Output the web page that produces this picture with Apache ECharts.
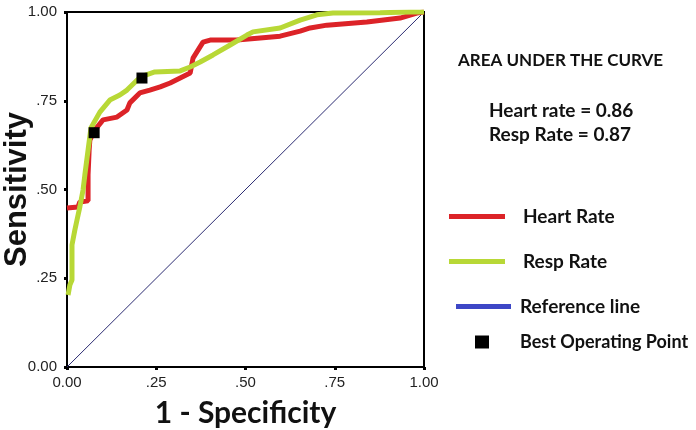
<!DOCTYPE html>
<html>
<head>
<meta charset="utf-8">
<script src="https://cdn.jsdelivr.net/npm/echarts@6/dist/echarts.min.js"></script>
<style>
  html, body { margin: 0; padding: 0; background: #fff; }
  #chart { width: 696px; height: 430px; }
</style>
</head>
<body>
<div id="chart"></div>
<script>
// ---- data (1 - specificity, sensitivity) ----
const heartRate = [
  [0, 0.448], [0.031, 0.451], [0.036, 0.465], [0.059, 0.468], [0.059, 0.541],
  [0.062, 0.611], [0.064, 0.639], [0.076, 0.665], [0.101, 0.696], [0.140, 0.704],
  [0.168, 0.724], [0.176, 0.744], [0.204, 0.772], [0.232, 0.780], [0.261, 0.789],
  [0.289, 0.800], [0.317, 0.814], [0.345, 0.828], [0.353, 0.870], [0.381, 0.915],
  [0.401, 0.921], [0.476, 0.921], [0.541, 0.927], [0.597, 0.932], [0.653, 0.946],
  [0.681, 0.955], [0.728, 0.963], [0.840, 0.972], [0.933, 0.983], [0.980, 0.997],
  [1, 1]
];
const respRate = [
  [0.003, 0.203], [0.008, 0.231], [0.014, 0.245], [0.014, 0.344], [0.022, 0.386],
  [0.028, 0.414], [0.036, 0.451], [0.045, 0.499], [0.050, 0.541], [0.059, 0.611],
  [0.067, 0.673], [0.092, 0.718], [0.120, 0.752], [0.148, 0.766], [0.168, 0.780],
  [0.196, 0.808], [0.210, 0.819], [0.246, 0.831], [0.317, 0.834], [0.345, 0.845],
  [0.373, 0.859], [0.409, 0.879], [0.457, 0.907], [0.504, 0.935], [0.521, 0.944],
  [0.597, 0.955], [0.653, 0.977], [0.700, 0.992], [0.745, 0.997], [0.877, 0.998],
  [0.961, 1.0], [1, 1]
];
const referenceLine = [[0, 0], [1, 1]];
const bestPoints = [[0.076, 0.660], [0.210, 0.814]];
const xTickLabels = ['0.00', '.25', '.50', '.75', '1.00'];
const yTickLabels = ['0.00', '.25', '.50', '.75', '1.00'];
const aucTitle = 'AREA UNDER THE CURVE';
const aucLines = ['Heart rate = 0.86', 'Resp Rate = 0.87'];

const RED = '#dc2328';
const GREEN = '#b8d836';
const NAVY = '#2c2c72';
const BLUE = '#3d47c6';
const calibri = 'Lato, "Open Sans", sans-serif';

const chart = echarts.init(document.getElementById('chart'), null, { renderer: 'canvas' });

function legendFor(name, top, left, icon, w, h, size, padLeft) {
  return {
    data: [{ name: name, icon: icon }],
    left: left, top: top, padding: 0,
    itemWidth: w, itemHeight: h,
    selectedMode: false,
    textStyle: { fontFamily: calibri, fontWeight: 'bold', fontSize: size, color: '#111', padding: [0, 0, 0, padLeft] }
  };
}

chart.setOption({
  animation: false,
  backgroundColor: '#fff',
  grid: { left: 67, right: 272, top: 12, bottom: 63, outerBoundsMode: 'none', containLabel: false,
    show: true, borderColor: '#000', borderWidth: 2, backgroundColor: 'transparent' },
  xAxis: {
    type: 'value', min: 0, max: 1, interval: 0.25,
    axisLine: { show: true, lineStyle: { color: '#000', width: 2 } },
    axisTick: { show: true, length: 3, inside: false, lineStyle: { color: '#000', width: 3 } },
    splitLine: { show: false },
    axisLabel: { margin: 8, color: '#222', fontFamily: '"Liberation Sans", Arial, sans-serif', fontSize: 15,
      formatter: v => xTickLabels[Math.round(v * 4)] },
    name: '1 - Specificity', nameLocation: 'middle', nameGap: 31,
    nameTextStyle: { fontFamily: calibri, fontWeight: 'bold', fontSize: 30, color: '#111' }
  },
  yAxis: {
    type: 'value', min: 0, max: 1, interval: 0.25,
    axisLine: { show: true, lineStyle: { color: '#000', width: 2 } },
    axisTick: { show: true, length: 3, inside: false, lineStyle: { color: '#000', width: 3 } },
    splitLine: { show: false },
    axisLabel: { margin: 10, color: '#222', fontFamily: '"Liberation Sans", Arial, sans-serif', fontSize: 15,
      formatter: v => yTickLabels[Math.round(v * 4)] },
    name: 'Sensitivity', nameLocation: 'middle', nameRotate: 90, nameGap: 34, nameMoveOverlap: false,
    nameTextStyle: { fontFamily: '"Liberation Sans", Arial, sans-serif', fontWeight: 'bold', fontSize: 31, color: '#111' }
  },
  legend: [
    legendFor('Heart Rate', 207, 449, 'rect', 56, 5, 19, 13),
    legendFor('Resp Rate', 252, 449, 'rect', 56, 5, 19, 13),
    legendFor('Reference line', 297, 456, 'rect', 55, 5, 19, 4),
    legendFor('Best Operating Point', 333, 475, 'rect', 14, 13, 18, 26)
  ],
  graphic: [
    { type: 'text', left: 458, top: 52, style: { text: aucTitle, font: 'bold 17px ' + calibri, fill: '#111' } },
    { type: 'text', left: 489, top: 101, style: { text: aucLines[0], font: 'bold 19px ' + calibri, fill: '#111' } },
    { type: 'text', left: 489, top: 125, style: { text: aucLines[1], font: 'bold 19px ' + calibri, fill: '#111' } }
  ],
  series: [
    { name: 'Reference line', type: 'line', data: referenceLine, showSymbol: false, silent: true,
      lineStyle: { color: NAVY, width: 1 }, itemStyle: { color: BLUE }, z: 1 },
    { name: 'Heart Rate', type: 'line', data: heartRate, showSymbol: false, silent: true,
      lineStyle: { color: RED, width: 5 }, itemStyle: { color: RED }, z: 2 },
    { name: 'Resp Rate', type: 'line', data: respRate, showSymbol: false, silent: true,
      lineStyle: { color: GREEN, width: 5 }, itemStyle: { color: GREEN }, z: 3 },
    { name: 'Best Operating Point', type: 'scatter', data: bestPoints, symbol: 'rect', symbolSize: 11,
      itemStyle: { color: '#000', opacity: 1 }, z: 5 }
  ]
});
</script>
</body>
</html>
